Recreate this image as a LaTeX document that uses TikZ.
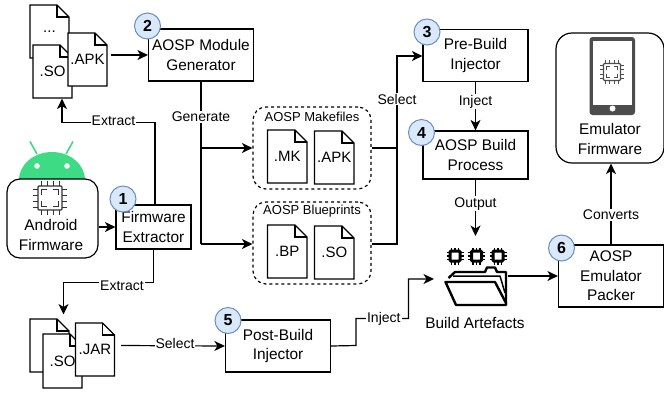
\documentclass[tikz,border=0pt]{standalone}
\usepackage{fontspec}
\setmainfont{Liberation Sans}
\usepackage{xcolor}
\usetikzlibrary{arrows.meta}
\definecolor{badgefill}{HTML}{DAE8FC}
\definecolor{badgeline}{HTML}{6C8EBF}
\definecolor{droid}{HTML}{3DDC84}
\definecolor{phonegray}{HTML}{4D4D4D}
\tikzset{
  arr/.style={-{Stealth[length=10.5pt,width=10pt,inset=3pt]}},
  tag/.style={fill=white,inner sep=1pt,font=\fontsize{14}{15}\selectfont},
  stepbox/.style={draw,fill=white,inner sep=0pt,align=center,font=\fontsize{15.4}{19.5}\selectfont},
  badge/.style={circle,draw=badgeline,fill=badgefill,line width=1pt,minimum size=26pt,inner sep=0pt,font=\fontsize{16}{16}\selectfont\bfseries},
  plain/.style={align=center,inner sep=0pt,font=\fontsize{15.4}{19.5}\selectfont},
  doclabel/.style={align=center,inner sep=0pt,font=\fontsize{15}{18}\selectfont},
  grouptitle/.style={inner sep=0pt,font=\fontsize{13}{15}\selectfont},
  group/.style={draw,dashed,rounded corners=13pt,inner sep=0pt},
  docline/.style={draw,fill=white},
}
% doc page with folded corner: name, x, y, w, h, label
\newcommand{\docnode}[6]{
  \path[docline] (#2,#3) -- ++(#4-12,0) -- ++(12,12) -- ++(0,#5-12) -- ++(-#4,0) -- cycle;
  \draw (#2+#4-12,#3) -- ++(0,12) -- ++(12,0);
  \node[doclabel,minimum width=#4pt,minimum height=#5pt] (#1) at (#2+#4/2,#3+#5/2) {#6};
}
% cpu icon: x, y, half size, colour
\newcommand{\chipicon}[4]{
  \draw[#4,line width=1.3pt,rounded corners=1pt] (#1-#3,#2-#3) rectangle (#1+#3,#2+#3);
  \foreach \d in {-0.75,-0.25,0.25,0.75} {
    \draw[#4,line width=0.9pt] (#1+\d*#3,#2-#3) -- ++(0,-0.45*#3);
    \draw[#4,line width=0.9pt] (#1+\d*#3,#2+#3) -- ++(0,0.45*#3);
    \draw[#4,line width=0.9pt] (#1-#3,#2+\d*#3) -- ++(-0.45*#3,0);
    \draw[#4,line width=0.9pt] (#1+#3,#2+\d*#3) -- ++(0.45*#3,0);
  }
  \foreach \sx/\sy in {-1/-1,1/-1,1/1,-1/1} {
    \draw[#4,line width=1pt] (#1+\sx*0.7*#3,#2+\sy*0.25*#3) -- (#1+\sx*0.7*#3,#2+\sy*0.7*#3) -- (#1+\sx*0.25*#3,#2+\sy*0.7*#3);
  }
}
% small heavy chip above the folder
\newcommand{\heavychip}[2]{
  \draw[line width=3pt,rounded corners=1pt] (#1-5,#2-5) rectangle (#1+5,#2+5);
  \foreach \d in {-3.5,0,3.5} {
    \draw[line width=1.7pt] (#1+\d,#2-6) -- ++(0,-2.5);
    \draw[line width=1.7pt] (#1+\d,#2+6) -- ++(0,2.5);
    \draw[line width=1.7pt] (#1-6,#2+\d) -- ++(-2.5,0);
    \draw[line width=1.7pt] (#1+6,#2+\d) -- ++(2.5,0);
  }
}
\begin{document}
\begin{tikzpicture}[x=1pt,y=-1pt,line width=1.2pt]
\useasboundingbox (0,0) rectangle (664,392);

% android head
\fill[droid] (19,180) arc[x radius=33,y radius=28,start angle=180,end angle=360] -- cycle;
\draw[droid,line width=1.6pt] (30,141.5) -- (37,154);
\draw[droid,line width=1.6pt] (73,141.5) -- (66,154);
\fill[white] (37,166) circle (2.8);
\fill[white] (67,166) circle (2.8);

% left column
\node[draw,fill=white,rounded corners=13pt,minimum width=91pt,minimum height=79pt] (android) at (52.5,218.5) {};
\chipicon{50}{198}{12}{black!80}
\node[plain] (androidtext) at (51,235) {Android\\Firmware};
\node[stepbox,minimum width=75pt,minimum height=44pt] (extractor) at (153.5,227) {Firmware\\Extractor};

\docnode{docsa}{30}{5}{39}{53}{...}
\docnode{soa}{33}{45}{39}{53}{.SO}
\docnode{apka}{68}{33}{39}{53}{.APK}

\docnode{docsb}{30}{319}{39}{53}{}
\docnode{sob}{43}{334}{39}{54}{.SO}
\docnode{jarb}{75.5}{323}{39}{53}{.JAR}

% middle
\node[stepbox,minimum width=105pt,minimum height=52pt] (generator) at (201,55) {AOSP Module\\Generator};
\node[group,minimum width=118pt,minimum height=82pt] (makefiles) at (312,148) {};
\node[grouptitle] (maketitle) at (312,117) {AOSP Makefiles};
\docnode{mk}{267.5}{130}{39.5}{53}{.MK}
\docnode{apkb}{314.5}{131}{39.5}{53}{.APK}
\node[group,minimum width=118pt,minimum height=82pt] (blueprints) at (312,243) {};
\node[grouptitle] (bluetitle) at (312,211) {AOSP Blueprints};
\docnode{bp}{267.5}{225}{39.5}{53}{.BP}
\docnode{sob2}{314.5}{226}{39.5}{53}{.SO}
\node[stepbox,minimum width=105pt,minimum height=52pt] (postbuild) at (278,346) {Post-Build\\Injector};

% right
\node[stepbox,minimum width=105pt,minimum height=52pt] (prebuild) at (475.5,55.5) {Pre-Build\\Injector};
\node[stepbox,minimum width=105pt,minimum height=48pt] (buildproc) at (475.5,155) {AOSP Build\\Process};
\node[stepbox,minimum width=105pt,minimum height=62pt] (packer) at (611,276) {AOSP\\Emulator\\Packer};

% phone card
\node[draw,fill=white,rounded corners=16pt,minimum width=108pt,minimum height=130pt] (emulator) at (610,98) {};
\fill[phonegray,rounded corners=3pt] (589.5,37) rectangle (635,115);
\fill[white] (592.5,41) rectangle (632,105);
\fill[white] (612.5,108.5) circle (3);
\chipicon{612}{72}{8.5}{phonegray}
\node[plain] (emulatortext) at (610,139) {Emulator\\Firmware};

% build artefacts
\heavychip{455}{256}
\heavychip{476.5}{256}
\heavychip{498}{256}
\node[minimum width=62pt,minimum height=38pt,inner sep=0pt] (artefacts) at (476,286) {};
\draw[line width=2.4pt,line join=round] (448.5,278) -- (455,272) -- (485,272) -- (487,267.5) -- (495,267.5) -- (497,272) -- (506,272) -- (506,305);
\draw[line width=1.5pt,line join=round] (453,276) -- (500,276) -- (505,293);
\draw[line width=2.4pt,fill=white,line join=round] (445.5,282) -- (495,282) -- (506,303) -- (506,305) -- (456,305) -- cycle;
\node[plain] (artefactstext) at (475,323) {Build Artefacts};

% connectors
\draw[arr] (android.east |- 0,227) -- (extractor.west);
\coordinate (c1) at (155,122.5);
\coordinate (c2) at (62,122.5);
\draw[arr] (extractor.north -| c1) -- (c1) -- node[tag,xshift=5pt,yshift=2pt]{Extract} (c2) -- (c2 |- soa.south);
\coordinate (c3) at (153.5,282.5);
\coordinate (c4) at (63.5,282.5);
\draw[arr] (extractor.south) -- (c3) -- node[tag,pos=0.35,yshift=-3pt]{Extract} (c4) -- ++(0,32);
\draw[arr] ([xshift=3pt]apka.east |- generator.west) -- (generator.west);
\coordinate (c5) at (201,148);
\coordinate (c6) at (201,244);
\draw (generator.south) -- (c6);
\node[tag] (generatelabel) at (201,117) {Generate};
\draw[arr] (c5) -- (makefiles.west);
\draw[arr] (c6) -- (blueprints.west |- c6);
\coordinate (c7) at (397,244);
\coordinate (c8) at (397,56);
\draw (makefiles.east) -- (c8 |- makefiles.east);
\draw[arr] (blueprints.east |- c7) -- (c7) -- node[tag,pos=0.77]{Select} (c8) -- (prebuild.west |- c8);
\draw[arr] (prebuild.south) -- node[tag,pos=0.4]{Inject} (buildproc.north);
\coordinate (c13) at (475.5,236);
\draw[arr] (buildproc.south) -- node[tag,pos=0.39,yshift=-2pt]{Output} (c13);
\coordinate (c14) at (121,345.5);
\draw[arr] (c14) -- node[tag,pos=0.52,yshift=2pt]{Select} (postbuild.west);
\coordinate (c9) at (356,345.5);
\coordinate (c10) at (356,318.5);
\coordinate (c11) at (408.5,318.5);
\coordinate (c12) at (408.5,279);
\coordinate (c15) at (434,279);
\draw[arr] (postbuild.east) -- (c9) -- (c10) -- node[tag,pos=0.53]{Inject} (c11) -- (c12) -- (c15);
\draw[arr] (artefacts.east |- 0,276) -- (packer.west);
\draw[arr] (packer.north) -- node[tag,pos=0.39,yshift=-2pt]{Converts} (emulator.south -| packer.north);

% numbered badges
\node[badge] (b1) at (123,199) {1};
\node[badge] (b2) at (147.5,26) {2};
\node[badge] (b3) at (427,32) {3};
\node[badge] (b4) at (421.5,132.5) {4};
\node[badge] (b5) at (228,320.5) {5};
\node[badge] (b6) at (561.5,248) {6};
\end{tikzpicture}
\end{document}
